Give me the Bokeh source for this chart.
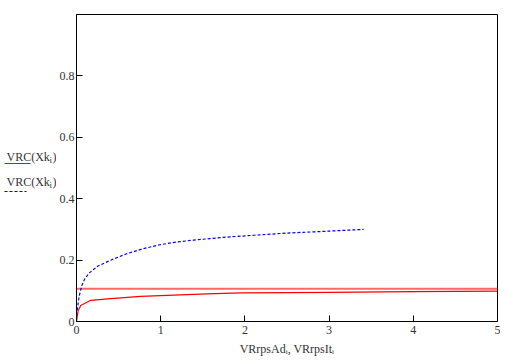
from bokeh.plotting import figure
from bokeh.models import Range1d, FixedTicker
from bokeh.layouts import row
from bokeh.core.properties import value
from bokeh.embed import file_html
from bokeh.resources import INLINE

# data
red_x = [0, 0.02, 0.05, 0.17, 0.37, 0.76, 1.55, 1.95, 3.0, 4.0, 5.0]
red_y = [0.0, 0.035, 0.052, 0.069, 0.074, 0.082, 0.090, 0.093, 0.095, 0.097, 0.099]
flat_x = [0, 5]
flat_y = [0.107, 0.107]
blue_x = [0, 0.03, 0.06, 0.10, 0.16, 0.25, 0.40, 0.59, 0.79, 0.99, 1.19, 1.39,
          1.58, 1.74, 2.11, 2.50, 2.90, 3.41]
blue_y = [0.02, 0.08, 0.115, 0.14, 0.16, 0.18, 0.199, 0.22, 0.237, 0.25, 0.259,
          0.265, 0.27, 0.274, 0.281, 0.288, 0.293, 0.30]
x_ticks = [0, 1, 2, 3, 4, 5]
y_ticks = [0, 0.2, 0.4, 0.6, 0.8]
legend_text = "VRC(Xk"
x_title = "VRrpsAd\u1d62, VRrpsIt\u1d62"

FONT = "Liberation Serif"
TXT = "#333333"

# ---- main plot ----
p = figure(width=441, height=360, frame_width=421, frame_height=307,
           x_range=Range1d(0, 5), y_range=Range1d(0, 1),
           output_backend="svg", toolbar_location=None,
           min_border_left=17, min_border_top=14, min_border_right=3,
           min_border_bottom=39)
p.xgrid.visible = False
p.ygrid.visible = False
p.outline_line_color = "black"
p.outline_line_alpha = 1
p.background_fill_color = "white"

for ax in (p.xaxis[0], p.yaxis[0]):
    ax.axis_line_color = "black"
    ax.major_tick_in = 6
    ax.major_tick_out = 0
    ax.minor_tick_line_color = None
    ax.major_label_text_font = FONT
    ax.major_label_text_font_size = "12px"
    ax.major_label_text_color = TXT

p.yaxis.major_label_standoff = 2
p.xaxis.major_label_standoff = 4
p.xaxis.ticker = FixedTicker(ticks=x_ticks)
p.yaxis.ticker = FixedTicker(ticks=y_ticks)
p.yaxis.major_label_overrides = {0: "0"}
p.xaxis.major_label_overrides = {0: "0"}

p.xaxis.axis_label = x_title
p.xaxis.axis_label_text_font = FONT
p.xaxis.axis_label_text_font_size = "12px"
p.xaxis.axis_label_text_font_style = "normal"
p.xaxis.axis_label_text_color = TXT
p.xaxis.axis_label_standoff = 5

p.line(flat_x, flat_y, line_color="#ff4040", line_width=2, line_alpha=0.8)
p.line(red_x, red_y, line_color="red", line_width=1.2)
p.line(blue_x, blue_y, line_color="blue", line_width=1.2, line_dash="3 2")

# ---- left panel with the y "legend" title (same vertical geometry as p) ----
leg = figure(width=56, height=360, frame_width=56, frame_height=307,
             x_range=Range1d(0, 56), y_range=Range1d(0, 1),
             x_axis_type=None, y_axis_type=None,
             output_backend="svg", toolbar_location=None,
             min_border_left=0, min_border_right=0,
             min_border_top=14, min_border_bottom=39)
leg.xgrid.visible = False
leg.ygrid.visible = False
leg.outline_line_color = None


def vy(py):
    # page pixel row -> value on the shared 0..1 vertical scale
    return (321 - py) / 307


for base in (156, 181):
    leg.text(x=[6], y=[vy(base)], text=[legend_text], text_font=value(FONT),
             text_font_size="12px", text_color=TXT, text_baseline="alphabetic")
    leg.text(x=[49], y=[vy(base + 3)], text=["i"], text_font=value(FONT),
             text_font_size="9px", text_color=TXT, text_baseline="alphabetic")
    leg.text(x=[52], y=[vy(base)], text=[")"], text_font=value(FONT),
             text_font_size="12px", text_color=TXT, text_baseline="alphabetic")
leg.line([4, 30], [vy(163), vy(163)], line_color="red", line_width=1)
leg.line([4, 26], [vy(191), vy(191)], line_color="blue", line_width=1, line_dash="3 2")

layout = row(leg, p, spacing=0)
open("out.html", "w").write(file_html(layout, INLINE))
